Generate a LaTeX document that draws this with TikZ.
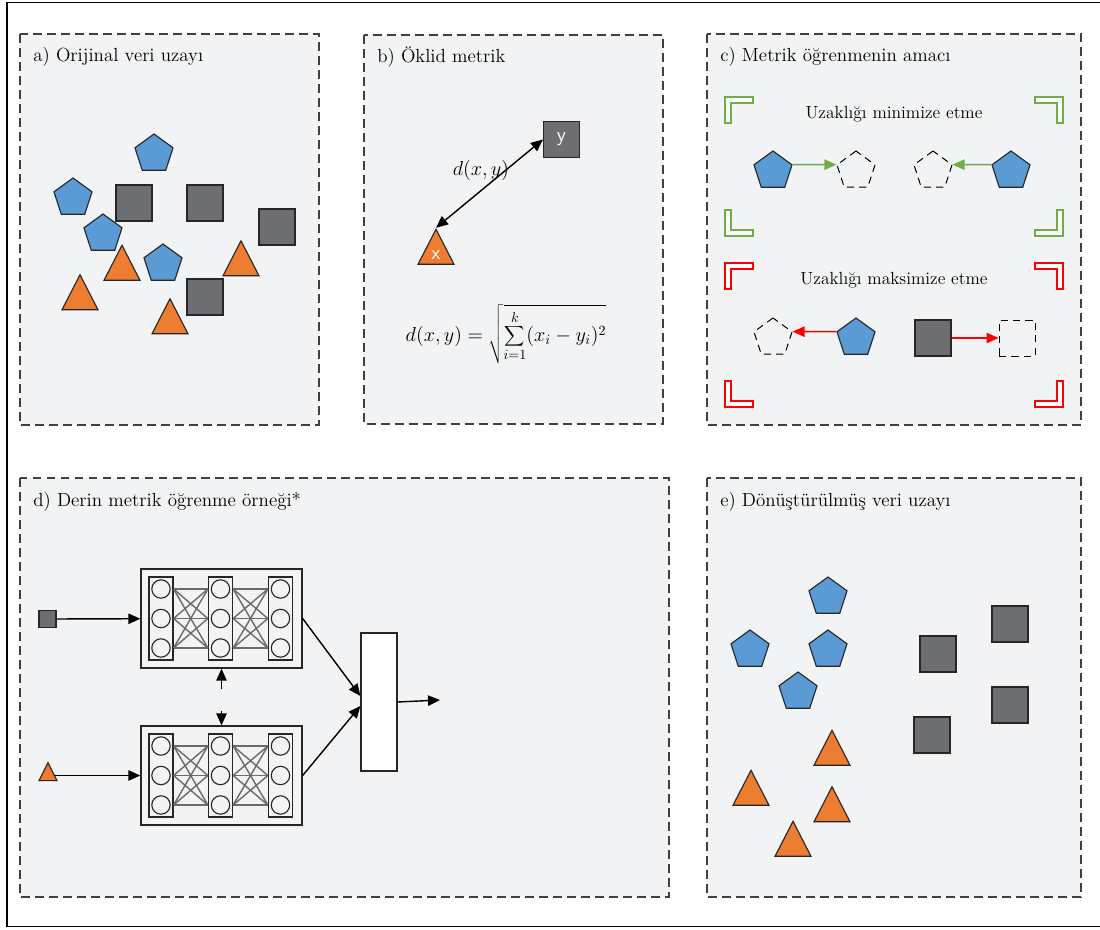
\documentclass[tikz,border=0pt]{standalone}
\usetikzlibrary{shapes.geometric,arrows.meta,positioning}
\definecolor{panelbg}{HTML}{F1F3F5}
\definecolor{penblue}{HTML}{5B9BD5}
\definecolor{triorange}{HTML}{ED7D31}
\definecolor{sqgray}{HTML}{6D6E71}
\definecolor{okgreen}{HTML}{70AD47}
\definecolor{linkgray}{HTML}{6A6A6A}
\begin{document}
\begin{tikzpicture}[x=0.025cm, y=-0.025cm
	,panel/.style={draw=black!75, fill=panelbg, line width=1pt, dash pattern=on 2.2mm off 1.3mm}
	,title/.style={anchor=west, inner sep=0, font=\fontsize{13.5}{15}\selectfont}
	,pent/.style={regular polygon, regular polygon sides=5, minimum size=10mm, inner sep=0, draw=black!85, line width=0.8pt, fill=penblue}
	,sq/.style={rectangle, minimum size=9mm, inner sep=0, draw=black!85, line width=0.8pt, fill=sqgray}
	,tri/.style={isosceles triangle, isosceles triangle stretches, shape border rotate=90, minimum width=9mm, minimum height=8.75mm, inner sep=0, draw=black!85, line width=0.8pt, fill=triorange}
	,ghost/.style={fill=none, draw=black, line width=0.7pt, dash pattern=on 1.8mm off 1.3mm}
	,lbl/.style={inner sep=0, text=white, font=\sffamily\Large}
	,arr/.style={-{Triangle[length=3mm, width=2.6mm]}, line width=1pt}
	,netbox/.style={draw=black!85, fill=panelbg, line width=0.9pt, minimum width=40.25mm, minimum height=24.75mm, inner sep=0}
	,layerbox/.style={draw=black!85, line width=0.9pt, minimum width=6mm, minimum height=20.75mm, inner sep=0}
	,unit/.style={circle, draw=black!85, line width=0.8pt, minimum size=4.6mm, inner sep=0}
	,link/.style={draw=linkgray, line width=1pt}
]

\useasboundingbox[fill=white] (0,0) rectangle (1100,929);
\draw[line width=1pt] (1100,2.5) -- (7,2.5) -- (7,926.5) -- (1100,926.5);

% panels
\draw[panel] (20,34) rectangle (319,425);
\draw[panel] (364,35) rectangle (663,424);
\draw[panel] (707,34) rectangle (1081,425);
\draw[panel] (20,478) rectangle (669,897);
\draw[panel] (707,478) rectangle (1081,897);

\node[title](ta) at(33,57) {a) Orijinal veri uzayı};
\node[title](tb) at(377,57) {b) Öklid metrik};
\node[title](tc) at(720,57) {c) Metrik öğrenmenin amacı};
\node[title](td) at(33,502) {d) Derin metrik öğrenme örneği*};
\node[title](te) at(720,502) {e) Dönüştürülmüş veri uzayı};

% a) original space
\foreach \x/\y [count=\i] in {134/203,205/203,277/227,205/297}{
	\node[sq](as\i) at(\x,\y) {};
}
\foreach \x/\y [count=\i] in {154/154,73/198,103/234,163/264}{
	\node[pent](ap\i) at(\x,\y) {};
}
\foreach \x/\y [count=\i] in {122/269.3,80/298.8,241/264.8,170/322.8}{
	\node[tri](at\i) at(\x,\y) {};
}

% b) euclidean metric
\node[sq](ty) at(561.5,139.5) {};
\node[tri](tx) at(436,253.3) {};
\node[lbl] at(ty) {y};
\node[lbl] at([yshift=-0.5mm]tx.center) {x};
\draw[{Triangle[length=3mm, width=2.6mm]}-{Triangle[length=3mm, width=2.6mm]}, line width=1pt] (tx.apex) -- (ty.west);
\node[inner sep=0, font=\fontsize{15}{17}\selectfont](dl) at(481,170) {$d(x,y)$};
\node[inner sep=0, font=\fontsize{14}{16}\selectfont](eq) at(506,334)
	{$\displaystyle d(x,y)=\sqrt{\sum_{i=1}^{k}(x_i-y_i)^2}$};

% c) goal of metric learning
\foreach \cx/\cy/\sx/\sy/\col in {
	725/97/1/1/okgreen,1063/97/-1/1/okgreen,725/236/1/-1/okgreen,1063/236/-1/-1/okgreen%
	,725/263/1/1/red,1063/263/-1/1/red,725/407/1/-1/red,1063/407/-1/-1/red%
}{
	\draw[draw=\col, fill=white, line width=0.8pt, shift={(\cx,\cy)}, xscale=\sx, yscale=\sy]
		(0,0) -- (28,0) -- (28,6) -- (6,6) -- (6,26) -- (0,26) -- cycle;
}
\node[inner sep=0, font=\fontsize{12.5}{14}\selectfont](tmin) at(894,114) {Uzaklığı minimize etme};
\node[inner sep=0, font=\fontsize{12.5}{14}\selectfont](tmax) at(894,280) {Uzaklığı maksimize etme};

\node[pent](cp1) at(773,171) {};
\node[pent, ghost](cg1) at(856,171) {};
\node[pent, ghost](cg2) at(933,171) {};
\node[pent](cp2) at(1011,171) {};
\draw[arr, okgreen] (cp1.corner 5) -- (cg1.corner 2);
\draw[arr, okgreen] (cp2.corner 2) -- (cg2.corner 5);

\node[pent, ghost](cg3) at(773,338) {};
\node[pent](cp3) at(856,338) {};
\node[sq](cs1) at(933,338) {};
\node[sq, ghost](cg4) at(1017,338) {};
\draw[arr, red] (cp3.corner 2) -- (cg3.corner 5);
\draw[arr, red] (cs1.east) -- (cg4.west);

% d) deep metric learning
\foreach \k/\dy in {1/0,2/157}{
	\begin{scope}[shift={(0,\dy)}]
	\node[netbox](net\k) at(221.5,618.5) {};
	\foreach \i/\cx in {1/161,2/220.5,3/280.5}{
		\node[layerbox](col\k\i) at(\cx,618.5) {};
		\foreach \j/\cy in {1/589,2/618.5,3/648}{
			\node[unit](u\k\i\j) at(\cx,\cy) {};
		}
	}
	\foreach \a/\b in {1/2,2/3}{
		\foreach \j in {1,2,3}{
			\foreach \m in {1,2,3}{
				\draw[link] (col\k\a.east |- u\k\a\j) -- (col\k\b.west |- u\k\b\m);
			}
		}
	}
	\end{scope}
}

\node[sq, minimum size=4.25mm](inS) at(47.5,619) {};
\node[tri, minimum width=4.5mm, minimum height=4.5mm](inT) at(48,775) {};
\draw[arr] (inS) -- (net1);
\draw[arr] (net2.west -| inT.east) -- (net2.west);

\coordinate(m1) at(221.5,689);
\coordinate(m2) at(221.5,711);
\draw[arr] (m1) -- (net1.south);
\draw[arr] (m2) -- (net2.north);

\node[draw=black!85, fill=white, line width=0.9pt, minimum width=9mm, minimum height=34.5mm, inner sep=0](dist) at(379,702) {};
\draw[arr] (net1.east) -- ([yshift=1.5mm]dist.west);
\draw[arr] (net2.east) -- ([yshift=-1mm]dist.west);
\coordinate(out) at(440,700);
\draw[arr] (dist.east) -- (out);

% e) transformed space
\foreach \x/\y [count=\i] in {938/654,1010/624,1010/705,932/735}{
	\node[sq](es\i) at(\x,\y) {};
}
\foreach \x/\y [count=\i] in {828/597,750/650,828/650,798/692}{
	\node[pent](ep\i) at(\x,\y) {};
}
\foreach \x/\y [count=\i] in {832/754.3,751/794.3,832/810.8,793/845.3}{
	\node[tri](et\i) at(\x,\y) {};
}

\end{tikzpicture}
\end{document}
